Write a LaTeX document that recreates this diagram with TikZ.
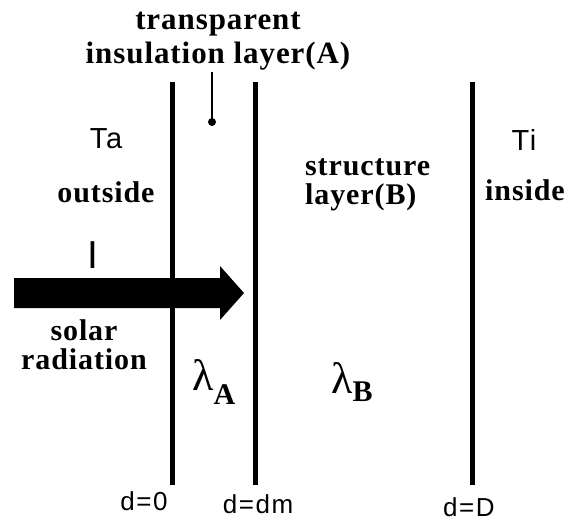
\documentclass[tikz,border=0pt]{standalone}
\usepackage{fontspec}
\setmainfont{Liberation Serif}
\newfontfamily\serifwide[LetterSpace=3]{Liberation Serif}
\newfontfamily\sanswide[LetterSpace=6]{Liberation Sans}
\usetikzlibrary{positioning}
\tikzset{
  wall/.style={line width=5pt},
  pin/.style={line width=1.3pt},
  layerlbl/.style={font=\serifwide\bfseries\fontsize{30}{29}\selectfont, inner sep=0pt, anchor=base, align=center},
  titlelbl/.style={layerlbl, font=\serifwide\bfseries\fontsize{31}{34}\selectfont},
  templbl/.style={font=\sanswide\fontsize{29}{29}\selectfont, inner sep=0pt, anchor=base},
  depthlbl/.style={font=\sanswide\fontsize{26}{26}\selectfont, inner sep=0pt, anchor=base},
  condlbl/.style={font=\fontsize{44}{44}\selectfont, inner sep=0pt, anchor=base west}
}
\newcommand{\subbold}[2]{\raisebox{-#2}{\bfseries\fontsize{30}{30}\selectfont #1}}

\begin{document}
\begin{tikzpicture}[x=1pt, y=-1pt]
  \useasboundingbox (0,0) rectangle (578,522);
  \foreach \wx/\wn in {172/zero, 255/dm, 472/full} {
    \coordinate (\wn top) at (\wx,82);
    \coordinate (\wn bot) at (\wx,485);
    \draw[wall] (\wn top) -- (\wn bot);
  }

  \node[titlelbl] (title) at (218,63) {transparent\\insulation layer(A)};
  \coordinate (pintop) at (212,72);
  \coordinate (pinend) at (212,122);
  \draw[pin] (pintop) -- (pinend);
  \fill (pinend) circle (4pt);

  \node[templbl] (ta) at (106,148) {Ta};
  \node[layerlbl] (outside) at (106,202) {outside};
  \node[layerlbl, align=left, anchor=base west] (struct) at (305,204) {structure\\layer(B)};
  \node[templbl] (ti) at (524,150) {Ti};
  \node[layerlbl] (inside) at (525,200) {inside};

  \node[templbl, font=\sanswide\fontsize{39}{39}\selectfont] (irr) at (93,268) {I};
  \fill (14,278) -- (220,278) -- (220,266) -- (244,293) -- (220,320)
    -- (220,308) -- (14,308) -- cycle;
  \node[layerlbl] (solar) at (84,369) {solar\\radiation};

  \node[condlbl] (lama) at (192,390) {λ\subbold{A}{14pt}};
  \node[condlbl] (lamb) at (331,393) {λ\subbold{B}{8pt}};

  \node[depthlbl] (dzero) at (144,510) {d=0};
  \node[depthlbl] (ddm) at (258,513) {d=dm};
  \node[depthlbl] (dfull) at (469,516) {d=D};
\end{tikzpicture}
\end{document}
